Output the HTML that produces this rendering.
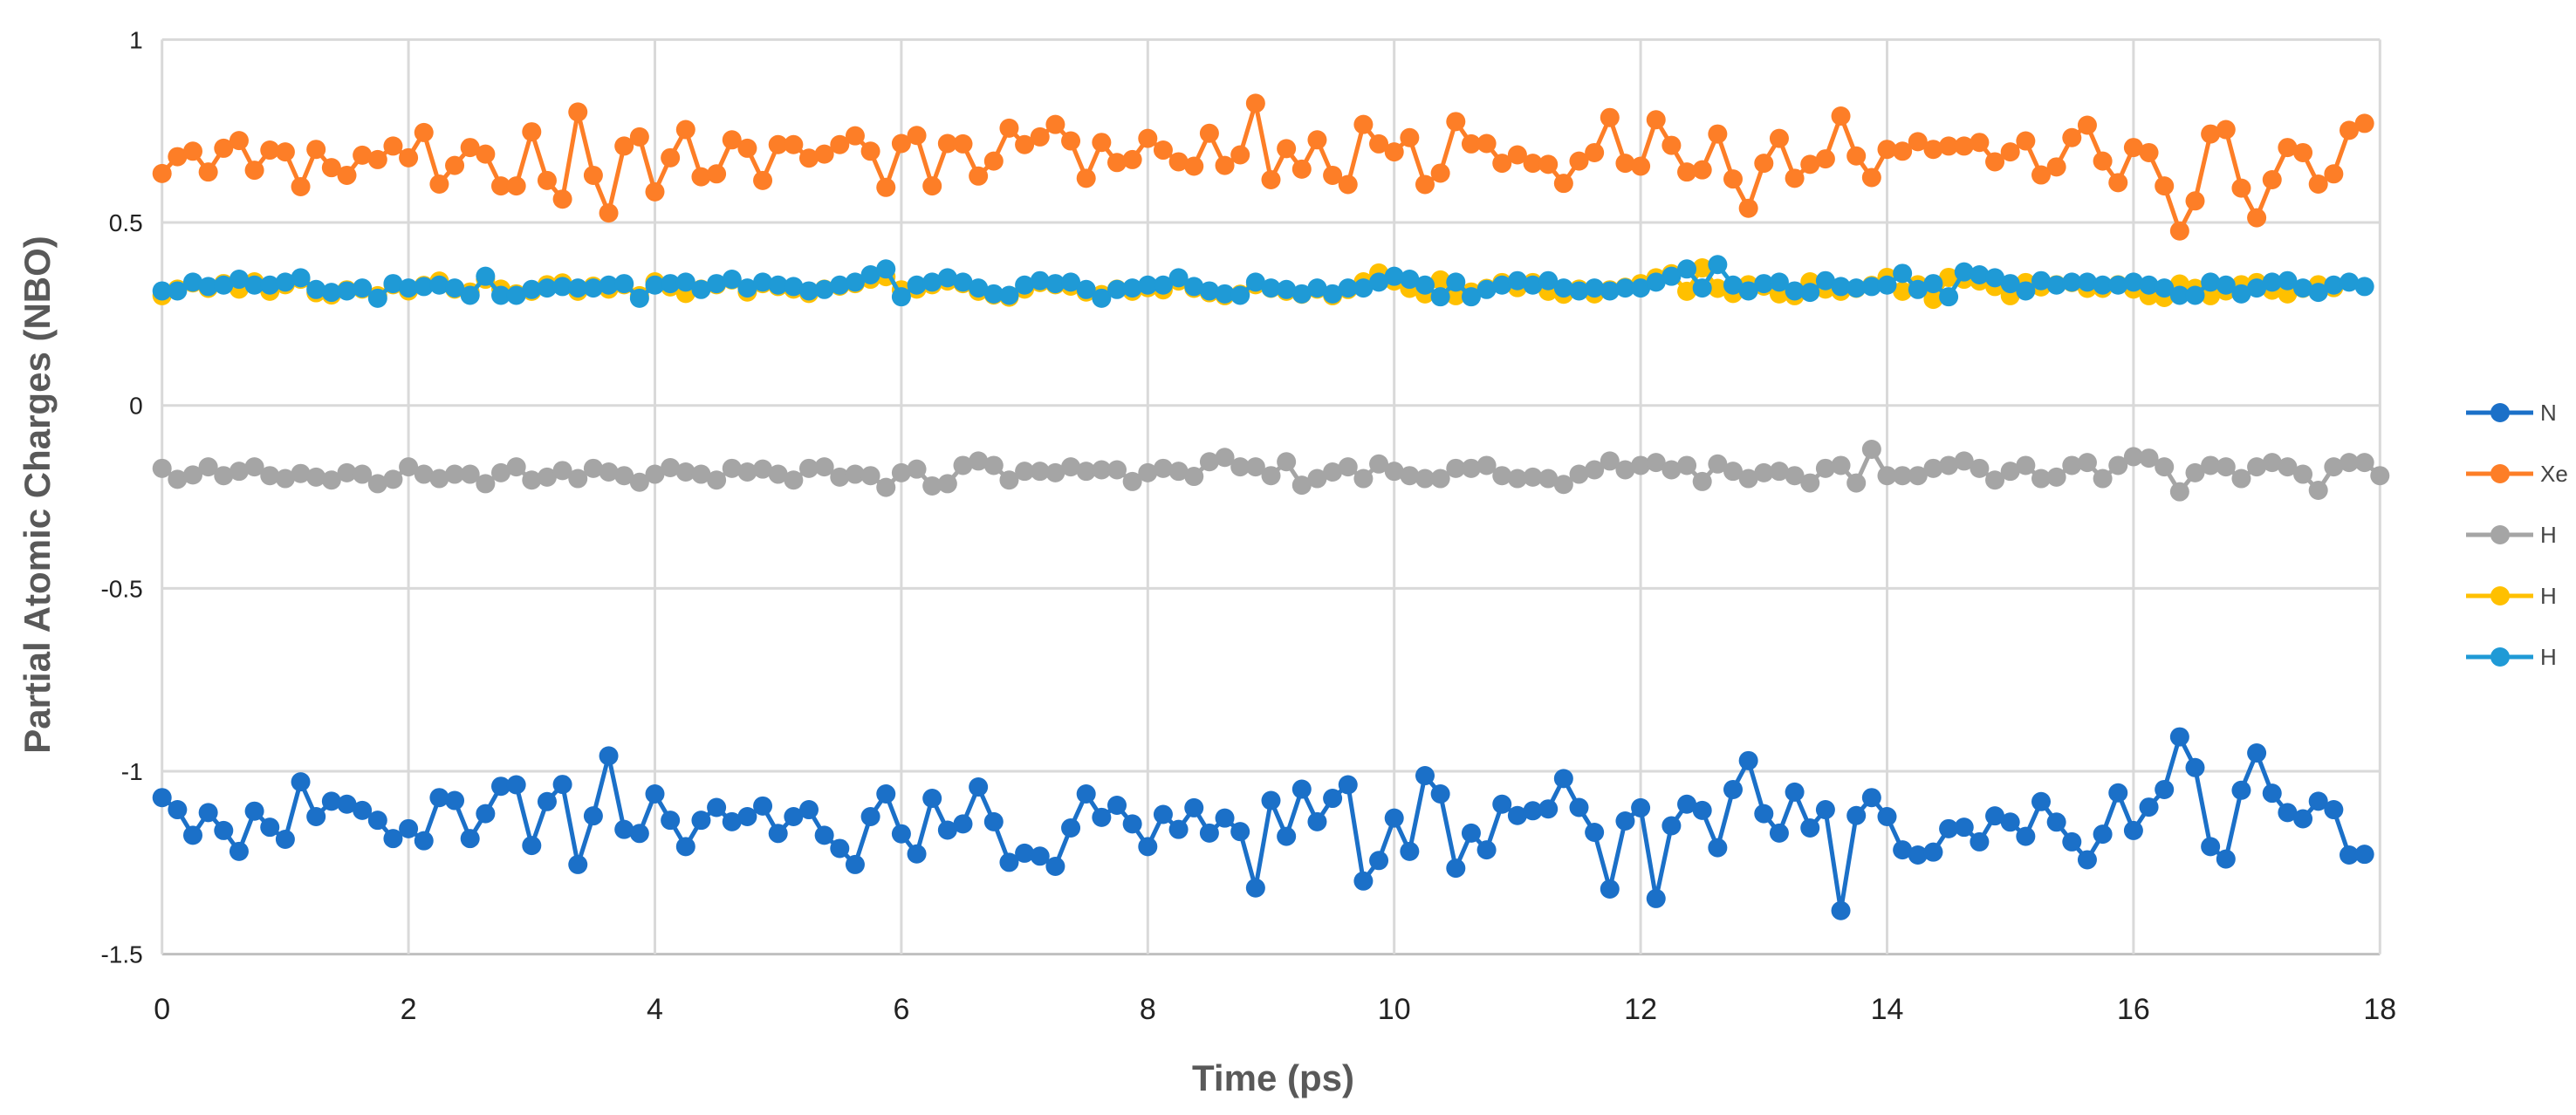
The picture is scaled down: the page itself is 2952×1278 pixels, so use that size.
<!DOCTYPE html>
<html><head><meta charset="utf-8"><title>Partial Atomic Charges</title>
<style>html,body{margin:0;padding:0;background:#fff}svg{display:block}</style></head>
<body>
<svg id="chart" xmlns="http://www.w3.org/2000/svg" width="2952" height="1278" viewBox="0 0 2952 1278" font-family="Liberation Sans, sans-serif"></svg>
<script>
const xTicks=[0,2,4,6,8,10,12,14,16,18];
const yTicks=[1,0.5,0,-0.5,-1,-1.5];
const yTickLabels=["1","0.5","0","-0.5","-1","-1.5"];
const timeStep=0.125;
const seriesNames=["N","Xe","H","H","H"];
const nVals=[-1.072,-1.105,-1.175,-1.113,-1.162,-1.219,-1.109,-1.153,-1.186,-1.029,-1.124,-1.082,-1.09,-1.107,-1.134,-1.184,-1.157,-1.19,-1.072,-1.08,-1.184,-1.116,-1.041,-1.037,-1.203,-1.083,-1.036,-1.255,-1.122,-0.958,-1.159,-1.17,-1.062,-1.134,-1.206,-1.134,-1.099,-1.138,-1.124,-1.095,-1.17,-1.124,-1.105,-1.175,-1.211,-1.255,-1.124,-1.062,-1.171,-1.226,-1.074,-1.161,-1.144,-1.043,-1.138,-1.249,-1.224,-1.232,-1.26,-1.155,-1.062,-1.126,-1.093,-1.144,-1.206,-1.118,-1.159,-1.10,-1.169,-1.128,-1.165,-1.319,-1.08,-1.178,-1.049,-1.138,-1.074,-1.037,-1.30,-1.244,-1.128,-1.219,-1.012,-1.062,-1.265,-1.169,-1.215,-1.09,-1.121,-1.108,-1.103,-1.02,-1.099,-1.167,-1.322,-1.136,-1.10,-1.348,-1.149,-1.09,-1.107,-1.209,-1.05,-0.971,-1.116,-1.169,-1.057,-1.155,-1.105,-1.381,-1.121,-1.072,-1.124,-1.215,-1.229,-1.221,-1.157,-1.153,-1.193,-1.122,-1.139,-1.178,-1.083,-1.139,-1.193,-1.242,-1.172,-1.059,-1.162,-1.098,-1.05,-0.906,-0.99,-1.206,-1.24,-1.052,-0.95,-1.06,-1.113,-1.13,-1.082,-1.105,-1.229,-1.227];
const xeVals=[0.634,0.68,0.695,0.638,0.703,0.724,0.643,0.698,0.693,0.598,0.70,0.65,0.629,0.684,0.672,0.709,0.677,0.746,0.605,0.656,0.705,0.687,0.60,0.60,0.748,0.615,0.564,0.802,0.629,0.526,0.709,0.734,0.584,0.677,0.754,0.625,0.633,0.726,0.703,0.615,0.713,0.713,0.676,0.687,0.713,0.737,0.695,0.596,0.716,0.738,0.60,0.716,0.715,0.627,0.668,0.758,0.713,0.734,0.768,0.723,0.621,0.719,0.664,0.672,0.73,0.698,0.666,0.654,0.744,0.656,0.685,0.826,0.617,0.702,0.646,0.726,0.629,0.604,0.768,0.715,0.693,0.732,0.604,0.635,0.776,0.715,0.716,0.662,0.685,0.662,0.659,0.607,0.668,0.691,0.787,0.662,0.654,0.781,0.711,0.638,0.644,0.742,0.619,0.539,0.662,0.730,0.621,0.659,0.674,0.791,0.682,0.623,0.70,0.695,0.721,0.70,0.709,0.709,0.719,0.666,0.693,0.723,0.63,0.652,0.732,0.766,0.668,0.609,0.705,0.691,0.60,0.477,0.559,0.742,0.754,0.594,0.513,0.617,0.705,0.691,0.605,0.633,0.752,0.771];
const h1Vals=[-0.172,-0.202,-0.190,-0.168,-0.192,-0.180,-0.168,-0.192,-0.200,-0.186,-0.196,-0.204,-0.184,-0.188,-0.214,-0.202,-0.168,-0.188,-0.200,-0.188,-0.188,-0.214,-0.184,-0.168,-0.204,-0.196,-0.178,-0.200,-0.172,-0.182,-0.192,-0.210,-0.188,-0.170,-0.182,-0.188,-0.204,-0.172,-0.182,-0.174,-0.188,-0.204,-0.172,-0.168,-0.196,-0.188,-0.192,-0.224,-0.184,-0.174,-0.220,-0.214,-0.164,-0.152,-0.164,-0.204,-0.180,-0.180,-0.184,-0.168,-0.180,-0.176,-0.176,-0.208,-0.184,-0.172,-0.180,-0.194,-0.154,-0.142,-0.168,-0.168,-0.192,-0.154,-0.218,-0.200,-0.182,-0.168,-0.200,-0.160,-0.180,-0.192,-0.200,-0.200,-0.172,-0.172,-0.164,-0.192,-0.200,-0.196,-0.200,-0.216,-0.188,-0.176,-0.152,-0.176,-0.164,-0.156,-0.176,-0.164,-0.208,-0.160,-0.180,-0.200,-0.184,-0.180,-0.192,-0.212,-0.172,-0.164,-0.212,-0.120,-0.192,-0.192,-0.192,-0.172,-0.164,-0.152,-0.172,-0.204,-0.180,-0.164,-0.200,-0.196,-0.164,-0.156,-0.200,-0.164,-0.140,-0.144,-0.168,-0.236,-0.184,-0.164,-0.168,-0.200,-0.168,-0.156,-0.168,-0.188,-0.232,-0.168,-0.156,-0.156,-0.192];
const h2Vals=[0.300,0.318,0.335,0.320,0.333,0.318,0.338,0.312,0.330,0.345,0.308,0.302,0.316,0.318,0.300,0.330,0.313,0.328,0.340,0.318,0.310,0.345,0.318,0.305,0.312,0.330,0.335,0.312,0.326,0.318,0.330,0.300,0.338,0.324,0.306,0.318,0.330,0.343,0.310,0.333,0.325,0.318,0.306,0.318,0.326,0.333,0.345,0.352,0.316,0.318,0.330,0.340,0.333,0.312,0.302,0.296,0.318,0.336,0.330,0.326,0.310,0.303,0.318,0.312,0.322,0.316,0.340,0.320,0.308,0.300,0.304,0.330,0.320,0.312,0.304,0.318,0.300,0.317,0.338,0.362,0.340,0.320,0.305,0.343,0.300,0.310,0.320,0.336,0.322,0.336,0.312,0.304,0.318,0.305,0.316,0.323,0.333,0.349,0.360,0.312,0.376,0.320,0.306,0.330,0.326,0.305,0.300,0.338,0.318,0.312,0.320,0.328,0.350,0.312,0.330,0.290,0.350,0.345,0.340,0.325,0.300,0.336,0.324,0.330,0.336,0.320,0.320,0.330,0.318,0.300,0.295,0.332,0.320,0.300,0.313,0.330,0.336,0.315,0.305,0.320,0.330,0.322];
const h3Vals=[0.313,0.313,0.337,0.325,0.329,0.345,0.329,0.329,0.337,0.349,0.317,0.309,0.313,0.321,0.293,0.333,0.321,0.325,0.329,0.321,0.301,0.353,0.301,0.301,0.317,0.321,0.325,0.321,0.321,0.329,0.333,0.293,0.329,0.333,0.337,0.317,0.333,0.345,0.321,0.337,0.329,0.325,0.313,0.317,0.329,0.337,0.357,0.373,0.297,0.329,0.337,0.349,0.337,0.321,0.305,0.301,0.329,0.341,0.333,0.337,0.317,0.293,0.317,0.321,0.329,0.329,0.349,0.325,0.313,0.305,0.301,0.337,0.321,0.317,0.305,0.321,0.305,0.321,0.321,0.337,0.353,0.345,0.329,0.297,0.337,0.297,0.317,0.329,0.341,0.329,0.341,0.321,0.313,0.321,0.313,0.321,0.321,0.337,0.353,0.373,0.321,0.385,0.329,0.313,0.333,0.337,0.313,0.309,0.341,0.325,0.321,0.325,0.329,0.361,0.317,0.333,0.297,0.365,0.357,0.349,0.333,0.313,0.341,0.329,0.337,0.337,0.329,0.329,0.337,0.329,0.321,0.301,0.301,0.337,0.329,0.305,0.321,0.337,0.341,0.321,0.309,0.329,0.337,0.325];
const seriesValues=[nVals,xeVals,h1Vals,h2Vals,h3Vals];
const seriesColors=["#1b70c8","#fd7e27","#a5a5a5","#ffc000","#1f9ad6"];

const NS="http://www.w3.org/2000/svg";
const svg=document.getElementById("chart");
const X0=185.7,PX_PER_PS=141.2,Y0=464.7,PX_PER_UNIT=419.3;
function xScale(t){return X0+t*PX_PER_PS;}
function yScale(v){return Y0-v*PX_PER_UNIT;}
function mk(tag,attrs,parent){const e=document.createElementNS(NS,tag);for(const k in attrs)e.setAttribute(k,attrs[k]);(parent||svg).appendChild(e);return e;}

const grid=mk("g",{});


yTicks.forEach((v,i)=>{
  const l=mk("line",{x1:xScale(0),x2:xScale(18),y1:yScale(v),y2:yScale(v),stroke:i===yTicks.length-1?"#bfbfbf":"#d9d9d9","stroke-width":3},grid);
  
  
  const t=mk("text",{x:xScale(0)-22,y:yScale(v)+10,"text-anchor":"end","font-size":28,fill:"#222"});
  t.textContent=yTickLabels[i];
  
  
});
xTicks.forEach(t=>{
  const l=mk("line",{x1:xScale(t),x2:xScale(t),y1:yScale(1),y2:yScale(-1.5),stroke:"#d9d9d9","stroke-width":3},grid);
  
  
  const tx=mk("text",{x:xScale(t),y:1168,"text-anchor":"middle","font-size":34,fill:"#222"});
  tx.textContent=String(t);
  
  
});

seriesValues.forEach((vals,s)=>{
  const g=mk("g",{});
  
  
  const pts=vals.map((v,i)=>xScale(i*timeStep).toFixed(1)+","+yScale(v).toFixed(1)).join(" ");
  const pl=mk("polyline",{points:pts,fill:"none",stroke:seriesColors[s],"stroke-width":5,"stroke-linejoin":"round"},g);
  
  
  vals.forEach((v,i)=>{
    const c=mk("circle",{cx:xScale(i*timeStep),cy:yScale(v),r:11,fill:seriesColors[s]},g);
    
    
  });
});

const xt=mk("text",{x:1459,y:1250,"text-anchor":"middle","font-size":42,"font-weight":"bold",fill:"#595959"});
xt.textContent="Time (ps)";


const yt=mk("text",{x:0,y:0,"text-anchor":"middle","font-size":42,"font-weight":"bold",fill:"#595959",transform:"translate(57,567) rotate(-90)"});
yt.textContent="Partial Atomic Charges (NBO)";



const legend=mk("g",{});


seriesNames.forEach((n,i)=>{
  const y=473+i*70;
  const e=mk("g",{},legend);
  
  
  mk("line",{x1:2826,x2:2903,y1:y,y2:y,stroke:seriesColors[i],"stroke-width":5},e);
  mk("circle",{cx:2865,cy:y,r:11,fill:seriesColors[i]},e);
  const t=mk("text",{x:2911,y:y+9,"font-size":26,fill:"#444"},e);
  t.textContent=n;
});
</script>
</body></html>
